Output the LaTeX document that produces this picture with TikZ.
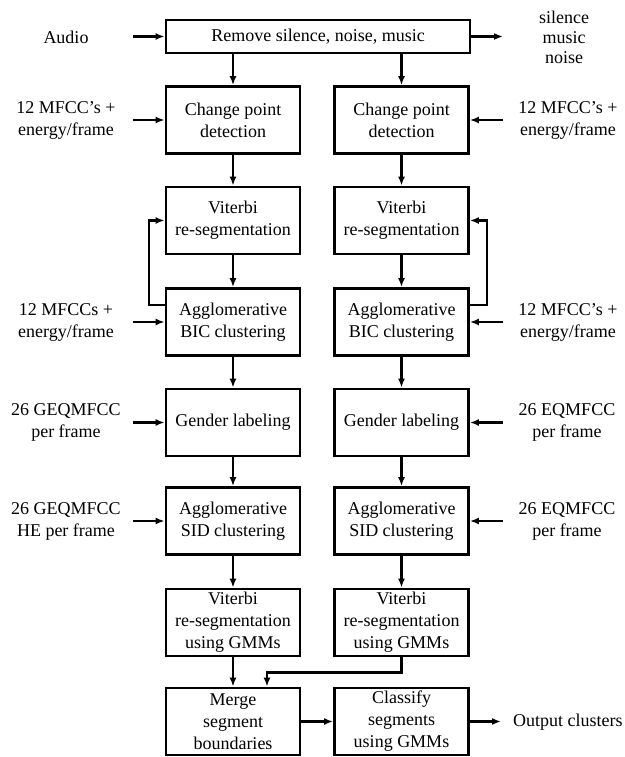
\documentclass[tikz,border=0pt]{standalone}
\usepackage{fontspec}
\setmainfont{Liberation Serif}
\usetikzlibrary{arrows.meta}
\begin{document}
\begin{tikzpicture}[x=1pt,y=-1pt,
 box/.style={draw,line width=2.8pt,minimum width=134pt,minimum height=67pt,inner sep=0pt,align=center,font=\fontsize{18}{22}\selectfont},
 lbl/.style={align=center,inner sep=0pt,font=\fontsize{18}{22}\selectfont},
 conn/.style={line width=2.2pt,-{Latex[length=9pt,width=7pt]}}]
\useasboundingbox (0,0) rectangle (624,757);
% top
\node[box,minimum width=304pt,minimum height=33pt] (top) at (318,36.5) {Remove silence, noise, music};
\node[lbl] (audio) at (66,37) {Audio};
\node[lbl,font=\fontsize{18}{20}\selectfont] (snm) at (564,37) {silence\\music\\noise};
\coordinate (ain) at (133,36.5);
\coordinate (aout) at (503,36.5);
% left column
\node[box] (cp1) at (233,120) {Change point\\detection};
\node[box] (vit1) at (233,220.5) {Viterbi\\re-segmentation};
\node[box] (bic1) at (233,322) {Agglomerative\\BIC clustering};
\node[box] (gen1) at (233,422.5) {Gender labeling};
\node[box] (sid1) at (233,521) {Agglomerative\\SID clustering};
\node[box] (vg1) at (233,622.5) {Viterbi\\re-segmentation\\using GMMs};
\node[box] (merge) at (233,721.5) {Merge\\segment\\boundaries};
% right column
\node[box] (cp2) at (401.5,120) {Change point\\detection};
\node[box] (vit2) at (401.5,220.5) {Viterbi\\re-segmentation};
\node[box] (bic2) at (401.5,322) {Agglomerative\\BIC clustering};
\node[box] (gen2) at (401.5,422.5) {Gender labeling};
\node[box] (sid2) at (401.5,521) {Agglomerative\\SID clustering};
\node[box] (vg2) at (401.5,622.5) {Viterbi\\re-segmentation\\using GMMs};
\node[box] (cls) at (401.5,721.5) {Classify\\segments\\using GMMs};
% left labels
\node[lbl] (l1) at (66,120) {12 MFCC’s +\\energy/frame};
\node[lbl] (l2) at (66,322) {12 MFCCs +\\energy/frame};
\node[lbl] (l3) at (66,422.5) {26 GEQMFCC\\per frame};
\node[lbl] (l4) at (66,521) {26 GEQMFCC\\HE per frame};
% right labels
\node[lbl] (r1) at (568,120) {12 MFCC’s +\\energy/frame};
\node[lbl] (r2) at (568,322) {12 MFCC’s +\\energy/frame};
\node[lbl] (r3) at (567,422.5) {26 EQMFCC\\per frame};
\node[lbl] (r4) at (567,521) {26 EQMFCC\\per frame};
\node[lbl,anchor=west] (out) at (513,722) {Output clusters};
% input arrow starts
\foreach \n/\y in {1/120,2/322,3/422.5,4/521}{
  \coordinate (li\n) at (133,\y);
  \coordinate (ri\n) at (503,\y);
}
\coordinate (oc) at (501,721.5);
% connectors
\draw[conn] (ain) -- (top.west);
\draw[conn] (top.east) -- (aout);
\draw[conn] (top.south -| cp1.north) -- (cp1.north);
\draw[conn] (top.south -| cp2.north) -- (cp2.north);
\draw[conn] (li1) -- (cp1.west);
\draw[conn] (li2) -- (bic1.west);
\draw[conn] (li3) -- (gen1.west);
\draw[conn] (li4) -- (sid1.west);
\draw[conn] (ri1) -- (cp2.east);
\draw[conn] (ri2) -- (bic2.east);
\draw[conn] (ri3) -- (gen2.east);
\draw[conn] (ri4) -- (sid2.east);
\foreach \c in {1,2}{
  \draw[conn] (cp\c) -- (vit\c);
  \draw[conn] (vit\c) -- (bic\c);
  \draw[conn] (bic\c) -- (gen\c);
  \draw[conn] (gen\c) -- (sid\c);
  \draw[conn] (sid\c) -- (vg\c);
}
\draw[conn] ([yshift=-18pt]bic1.north west) -- ++(-16pt,0pt) |- (vit1.west);
\draw[conn] ([yshift=-18pt]bic2.north east) -- ++(17pt,0pt) |- (vit2.east);
\draw[conn] (vg1) -- (merge);
\draw[conn] (vg2.south) -- ++(0pt,-15pt) -| ([xshift=34pt]merge.north);
\draw[conn] (merge) -- (cls);
\draw[conn] (cls.east) -- (oc);
\end{tikzpicture}
\end{document}
